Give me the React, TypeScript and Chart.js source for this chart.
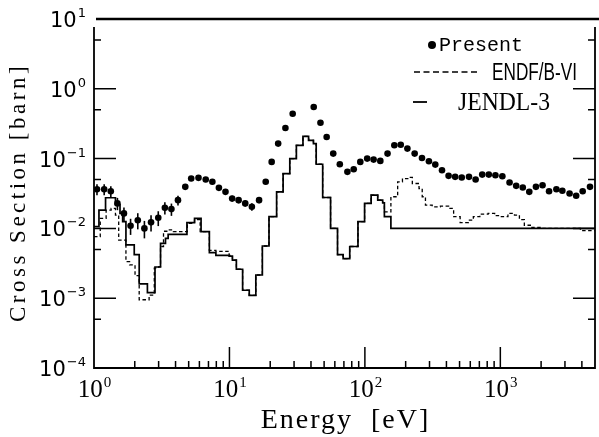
import { useEffect, useRef } from 'react';
import { Chart, registerables } from 'chart.js';

Chart.register(...registerables);

// ---- Data ----
const presentEnergy = [
  1.052, 1.189, 1.331, 1.489, 1.664, 1.862, 2.105, 2.356, 2.637, 2.982,
  3.336, 3.73, 4.17, 4.72, 5.22, 5.91, 6.68, 7.48, 8.36, 9.35,
  10.47, 11.69, 13.08, 14.64, 16.55, 18.53, 20.5, 22.9, 25.9, 29.3,
  41.9, 47.0, 52.2, 58.4, 65.3, 74.3, 82.7, 92.5, 104, 116,
  130, 147, 165, 184, 206, 233, 264, 297, 331, 371,
  415, 464, 519, 587, 657, 735, 822, 920, 1035, 1170,
  1309, 1465, 1636, 1832, 2050, 2290, 2594, 2870, 3245, 3630,
  4056, 4592,
];
const presentXS = [
  0.0364, 0.0364, 0.0341, 0.0228, 0.0164, 0.0109, 0.0131, 0.0100, 0.0122, 0.0142,
  0.0198, 0.0189, 0.0254, 0.0394, 0.0518, 0.0530, 0.0501, 0.0465, 0.0381, 0.0334,
  0.0268, 0.0254, 0.0228, 0.0204, 0.0254, 0.0465, 0.0897, 0.164, 0.275, 0.44,
  0.548, 0.327, 0.204, 0.118, 0.083, 0.0646, 0.0703, 0.0897, 0.100, 0.0968,
  0.0927, 0.118, 0.155, 0.158, 0.139, 0.118, 0.102, 0.0915, 0.082, 0.068,
  0.0566, 0.0548, 0.0535, 0.0548, 0.0501, 0.059, 0.059, 0.0577, 0.0558, 0.0454,
  0.0407, 0.0385, 0.0334, 0.0394, 0.0416, 0.0341, 0.0364, 0.0346, 0.0316, 0.0293,
  0.0341, 0.0394,
];
// relative half-length of the error bars
const presentRelErr = [
  0.18, 0.18, 0.18, 0.2, 0.22, 0.26, 0.26, 0.28, 0.26, 0.24,
  0.2, 0.2, 0.16, 0.1, 0.08, 0.08, 0.08, 0.08, 0.1, 0.1,
  0.1, 0.1, 0.1, 0.12, 0.1, 0.06, 0.05, 0.05, 0.05, 0.05,
  0.05, 0.05, 0.05, 0.05, 0.05, 0.05, 0.05, 0.05, 0.05, 0.05,
  0.05, 0.05, 0.05, 0.05, 0.05, 0.05, 0.05, 0.05, 0.05, 0.05,
  0.05, 0.05, 0.05, 0.05, 0.05, 0.05, 0.05, 0.05, 0.05, 0.05,
  0.05, 0.05, 0.05, 0.05, 0.05, 0.05, 0.05, 0.05, 0.05, 0.05,
  0.05, 0.05,
];

const jendlEdges = [
  1.0, 1.088, 1.217, 1.44, 1.556, 1.628, 1.721, 1.982, 2.156, 2.479,
  2.821, 3.099, 3.371, 3.527, 4.855, 5.525, 6.172, 7.108, 7.943, 9.95,
  10.52, 11.25, 12.51, 14.0, 15.66, 17.5, 19.59, 22.3, 24.9, 27.9,
  31.2, 34.9, 38.4, 41.7, 43.7, 48.8, 55.8, 62.8, 69.1, 77.3,
  88.9, 99.5, 111.2, 124.4, 135.3, 139.3, 155.6, 5000,
];
const jendlXS = [
  0.0106, 0.0183, 0.0275, 0.0220, 0.0164, 0.0125, 0.0058, 0.0042, 0.0016, 0.0012,
  0.0028, 0.0061, 0.0072, 0.0082, 0.0121, 0.0139, 0.0090, 0.0045, 0.0041, 0.0040,
  0.0035, 0.0026, 0.0013, 0.0011, 0.00215, 0.0056, 0.0147, 0.0334, 0.0611, 0.100,
  0.155, 0.208, 0.183, 0.164, 0.083, 0.0277, 0.0100, 0.0042, 0.0037, 0.0055,
  0.0125, 0.0228, 0.0299, 0.0254, 0.0233, 0.0147, 0.0100,
];

const endfEdges = [
  1.0, 1.112, 1.229, 1.338, 1.44, 1.522, 1.721, 1.831, 2.009, 2.156,
  2.552, 2.787, 3.008, 3.099, 3.26, 3.527, 3.855, 4.89, 5.525, 6.08,
  7.108, 7.943, 9.95, 10.52, 11.25, 12.51, 14.0, 15.66, 17.5, 19.59,
  22.3, 24.9, 27.9, 31.2, 34.9, 38.4, 41.7, 43.7, 48.8, 55.8,
  62.8, 69.1, 77.3, 88.9, 99.5, 111.2, 124.4, 135.3, 139.3, 155.6,
  174.6, 189.4, 212, 224, 251, 265, 280, 314, 361, 415,
  452, 505, 581, 632, 706, 813, 908, 1017, 1138, 1272,
  1383, 1504, 1684, 1992, 3900, 5000,
];
const endfXS = [
  0.0076, 0.0139, 0.0183, 0.0193, 0.0155, 0.0068, 0.00334, 0.0030, 0.0021, 0.00095,
  0.00111, 0.0027, 0.00284, 0.0055, 0.0091, 0.0095, 0.0090, 0.0118, 0.0134, 0.0090,
  0.00485, 0.0047, 0.0041, 0.0035, 0.0026, 0.0013, 0.0011, 0.00215, 0.0056, 0.0147,
  0.0334, 0.0611, 0.100, 0.155, 0.208, 0.183, 0.164, 0.083, 0.0277, 0.0100,
  0.0042, 0.0037, 0.0055, 0.0125, 0.0228, 0.0299, 0.0254, 0.0233, 0.0173, 0.0284,
  0.0465, 0.0518, 0.054, 0.044, 0.0373, 0.0284, 0.0215, 0.0204, 0.0208, 0.0193,
  0.0147, 0.0121, 0.0131, 0.0147, 0.0160, 0.0164, 0.0152, 0.0147, 0.0164, 0.0155,
  0.0134, 0.0111, 0.0103, 0.0100, 0.0093,
];

const xMajorTicks = [1, 10, 100, 1000];
const xTickExponents = ['0', '1', '2', '3'];
const xMinorTicks = [
  2, 3, 4, 5, 6, 7, 8, 9, 20, 30, 40, 50, 60, 70, 80, 90,
  200, 300, 400, 500, 600, 700, 800, 900, 2000, 3000, 4000,
];
const yMajorTicks = [10, 1, 0.1, 0.01, 0.001, 0.0001];
const yTickExponents = ['1', '0', '\u22121', '\u22122', '\u22123', '\u22124'];
const yMinorTicks = [5, 0.5, 0.05, 0.005, 0.0005];

const xTitle = 'Energy  [eV]';
const yTitle = 'Cross Section [barn]';
const legendPresent = 'Present';
const legendEndf = 'ENDF/B-VI';
const legendJendl = 'JENDL-3';

function histogram(edges: number[], values: number[]) {
  const pts: { x: number; y: number }[] = [];
  for (let i = 0; i < values.length; i++) {
    pts.push({ x: edges[i], y: values[i] });
    pts.push({ x: edges[i + 1], y: values[i] });
  }
  return pts;
}

const overlayPlugin = {
  id: 'overlay',
  beforeDatasetsDraw(chart: any) {
    const ctx = chart.ctx as CanvasRenderingContext2D;
    const xs = chart.scales.x;
    const ys = chart.scales.y;
    ctx.save();
    ctx.strokeStyle = '#000';
    ctx.lineWidth = 1.6;
    for (let i = 0; i < presentEnergy.length; i++) {
      const px = xs.getPixelForValue(presentEnergy[i]);
      const v = presentXS[i];
      const e = presentRelErr[i];
      const y1 = ys.getPixelForValue(v * (1 + e));
      const y2 = ys.getPixelForValue(v * (1 - e));
      ctx.beginPath();
      ctx.moveTo(px, y1);
      ctx.lineTo(px, y2);
      ctx.stroke();
    }
    ctx.restore();
  },
  afterDraw(chart: any) {
    const ctx = chart.ctx as CanvasRenderingContext2D;
    const xs = chart.scales.x;
    const ys = chart.scales.y;
    const { left, right, top, bottom } = chart.chartArea;
    ctx.save();
    ctx.strokeStyle = '#000';
    ctx.fillStyle = '#000';

    // frame
    ctx.lineWidth = 2.6;
    ctx.beginPath();
    ctx.moveTo(left + 2, top);
    ctx.lineTo(chart.width, top);
    ctx.stroke();
    ctx.lineWidth = 1.8;
    ctx.beginPath();
    ctx.moveTo(left, top + 8);
    ctx.lineTo(left, bottom);
    ctx.lineTo(right, bottom);
    ctx.lineTo(right, top + 8);
    ctx.stroke();

    // y ticks (left and right, inward)
    ctx.lineWidth = 1.5;
    yMajorTicks.forEach((v) => {
      if (v >= 10) return;
      const py = ys.getPixelForValue(v);
      ctx.beginPath();
      ctx.moveTo(left, py);
      ctx.lineTo(left + 22, py);
      ctx.moveTo(right, py);
      ctx.lineTo(right - 22, py);
      ctx.stroke();
    });
    yMinorTicks.forEach((v) => {
      const py = ys.getPixelForValue(v);
      ctx.beginPath();
      ctx.moveTo(left, py);
      ctx.lineTo(left + 7, py);
      ctx.moveTo(right, py);
      ctx.lineTo(right - 7, py);
      ctx.stroke();
    });
    // x ticks
    xMajorTicks.forEach((v) => {
      const px = xs.getPixelForValue(v);
      if (v === 1) return;
      ctx.beginPath();
      ctx.moveTo(px, bottom);
      ctx.lineTo(px, bottom - 21);
      ctx.stroke();
    });
    xMinorTicks.forEach((v) => {
      const px = xs.getPixelForValue(v);
      ctx.beginPath();
      ctx.moveTo(px, bottom);
      ctx.lineTo(px, bottom - 7);
      ctx.stroke();
    });

    // x tick labels
    ctx.textBaseline = 'alphabetic';
    ctx.textAlign = 'left';
    xMajorTicks.forEach((v, i) => {
      const px = xs.getPixelForValue(v);
      ctx.font = '25px "Liberation Serif", serif';
      const w10 = ctx.measureText('10').width;
      ctx.font = '15px "Liberation Serif", serif';
      const ws = ctx.measureText(xTickExponents[i]).width;
      const start = px - (w10 + ws) / 2;
      ctx.font = '25px "Liberation Serif", serif';
      ctx.fillText('10', start, bottom + 29);
      ctx.font = '15px "Liberation Serif", serif';
      ctx.fillText(xTickExponents[i], start + w10 + 1, bottom + 19);
    });

    // y tick labels
    yMajorTicks.forEach((v, i) => {
      const py = ys.getPixelForValue(v);
      ctx.font = '13px "DejaVu Sans", sans-serif';
      const ws = ctx.measureText(yTickExponents[i]).width;
      ctx.font = '21px "DejaVu Sans", sans-serif';
      const w10 = ctx.measureText('10').width;
      const endX = left - 8;
      ctx.fillText('10', endX - ws - w10 - 1, py + 8);
      ctx.font = '13px "DejaVu Sans", sans-serif';
      ctx.fillText(yTickExponents[i], endX - ws, py - 2);
    });

    // axis titles
    (ctx as any).letterSpacing = '2px';
    ctx.font = '28px "Liberation Serif", serif';
    ctx.textAlign = 'center';
    ctx.fillText(xTitle, (left + right) / 2 + 1, 428);
    ctx.save();
    (ctx as any).letterSpacing = '3.5px';
    ctx.font = '23px "Liberation Serif", serif';
    ctx.translate(25, (top + bottom) / 2 - 1);
    ctx.rotate(-Math.PI / 2);
    ctx.fillText(yTitle, 0, 0);
    ctx.restore();
    (ctx as any).letterSpacing = '0px';

    // legend
    ctx.textAlign = 'left';
    ctx.beginPath();
    ctx.arc(432, 45, 4, 0, Math.PI * 2);
    ctx.fill();
    ctx.font = '20px "Liberation Mono", monospace';
    ctx.fillText(legendPresent, 439, 51);

    ctx.save();
    ctx.lineWidth = 1.4;
    ctx.setLineDash([6, 3.5]);
    ctx.beginPath();
    ctx.moveTo(414, 72);
    ctx.lineTo(479, 72);
    ctx.stroke();
    ctx.restore();
    ctx.save();
    ctx.font = '22px "Liberation Sans", sans-serif';
    const we = ctx.measureText(legendEndf).width;
    ctx.translate(492, 80);
    ctx.scale(85 / we, 1.05);
    ctx.fillText(legendEndf, 0, 0);
    ctx.restore();

    ctx.lineWidth = 1.8;
    ctx.beginPath();
    ctx.moveTo(413, 102);
    ctx.lineTo(427, 102);
    ctx.stroke();
    ctx.save();
    ctx.font = '25px "Liberation Serif", serif';
    const wj = ctx.measureText(legendJendl).width;
    ctx.translate(458, 110);
    ctx.scale(92 / wj, 1.05);
    ctx.fillText(legendJendl, 0, 0);
    ctx.restore();

    ctx.restore();
  },
};

export default function App() {
  const ref = useRef<HTMLCanvasElement | null>(null);
  useEffect(() => {
    if (!ref.current) return;
    const chart = new Chart(ref.current, {
      type: 'line',
      data: {
        datasets: [
          {
            label: legendEndf,
            data: histogram(endfEdges, endfXS),
            borderColor: '#000',
            borderWidth: 1.3,
            borderDash: [3.5, 2.5],
            pointRadius: 0,
            fill: false,
          },
          {
            label: legendJendl,
            data: histogram(jendlEdges, jendlXS),
            borderColor: '#000',
            borderWidth: 1.7,
            pointRadius: 0,
            fill: false,
          },
          {
            label: legendPresent,
            data: presentEnergy.map((e, i) => ({ x: e, y: presentXS[i] })),
            showLine: false,
            pointRadius: 3.3,
            pointBackgroundColor: '#000',
            pointBorderColor: '#000',
            pointBorderWidth: 0,
          },
        ],
      },
      options: {
        responsive: false,
        animation: false,
        layout: { padding: { left: 94, right: 1, top: 19, bottom: 69 } },
        plugins: { legend: { display: false }, tooltip: { enabled: false } },
        scales: {
          x: { type: 'logarithmic', min: 1, max: 5000, display: false },
          y: { type: 'logarithmic', min: 0.0001, max: 10, display: false },
        },
      },
      plugins: [overlayPlugin],
    });
    return () => chart.destroy();
  }, []);
  return (
    <div style={{ position: 'absolute', left: 0, top: 0, width: 599, height: 437, background: '#fff' }}>
      <canvas ref={ref} width={599} height={437} style={{ display: 'block' }} />
    </div>
  );
}
